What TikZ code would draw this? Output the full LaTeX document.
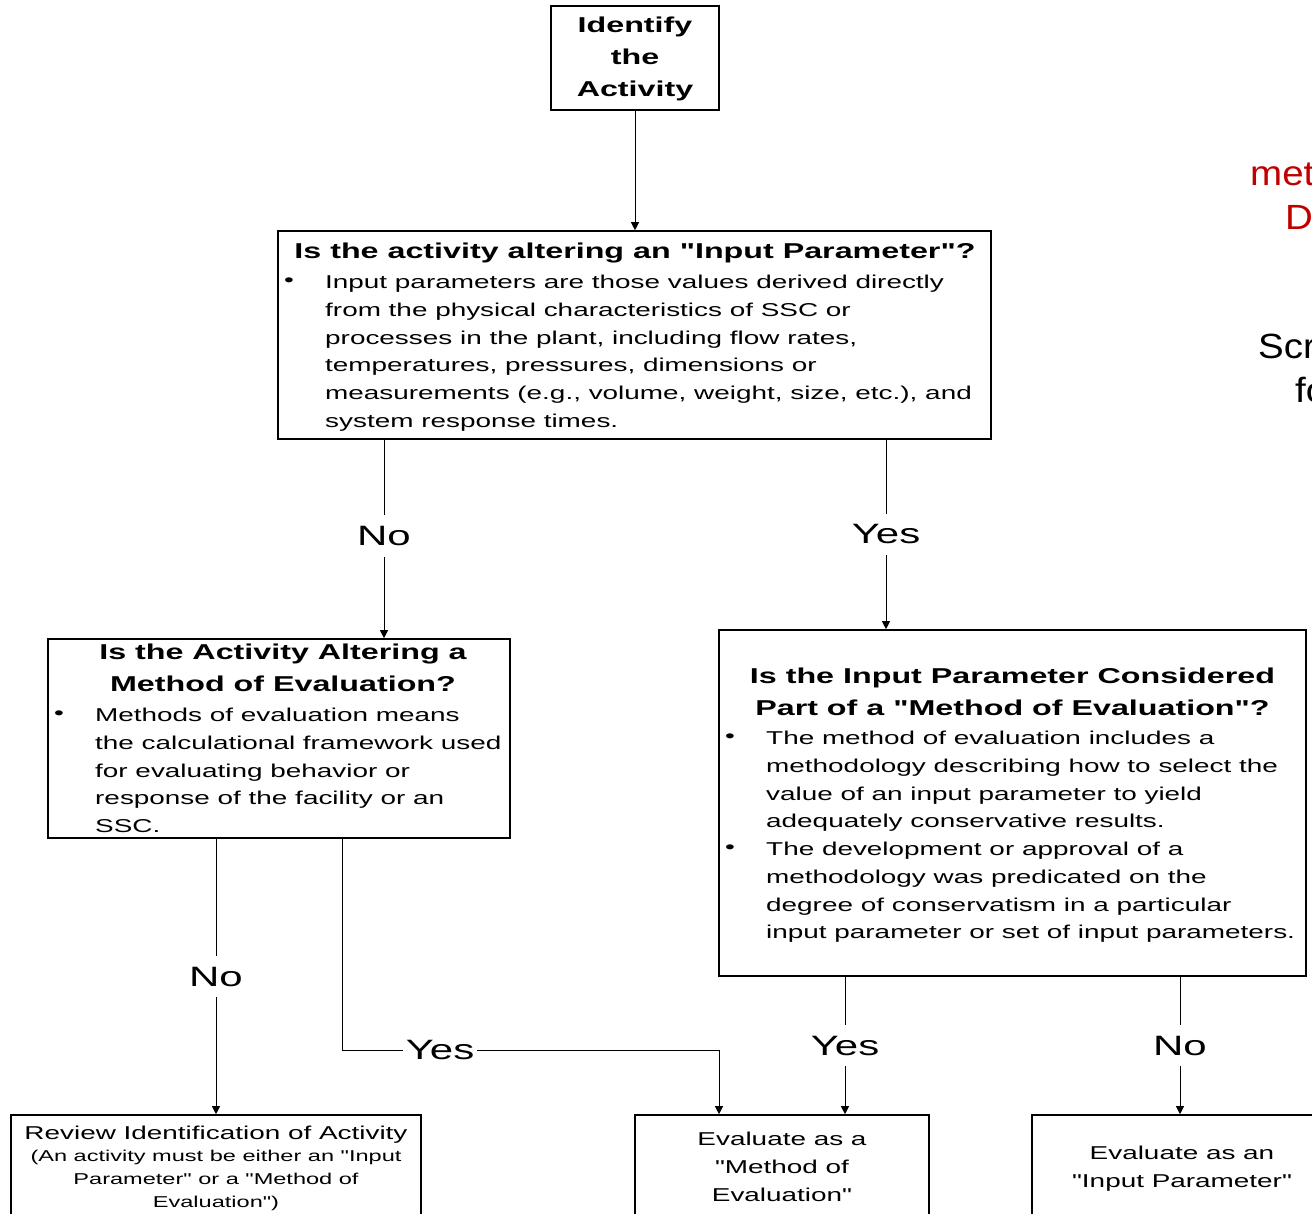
\documentclass[tikz,border=0pt]{standalone}
\usepackage{fontspec}
\setmainfont{Liberation Sans}[FakeStretch=1.5, Ligatures=TeXOff]
\newfontfamily\sidefont{Liberation Sans}[FakeStretch=1.1]
\usetikzlibrary{arrows.meta}
\definecolor{notered}{RGB}{192,0,0}

\newcommand{\bodysize}{\fontsize{18.6}{27.7}\selectfont}
\newcommand{\headsize}{\fontsize{21.5}{32}\selectfont\bfseries}
\newcommand{\lblsize}{\fontsize{28}{34}\selectfont}
\newcommand{\notesize}{\fontsize{15.7}{23}\selectfont}

\begin{document}
\begin{tikzpicture}[x=1pt, y=-1pt,
        box/.style={draw, line width=1.6pt, inner sep=0pt},
        head/.style={font=\headsize, align=center, inner sep=0pt},
        body/.style={font=\bodysize, align=left, inner sep=0pt, anchor=north west},
        dot/.style={font=\bodysize, inner sep=0pt},
        outcome/.style={font=\bodysize, align=center, inner sep=0pt, anchor=north},
        arr/.style={line width=0.9pt, -{Triangle[length=8pt, width=8pt]}},
        lbl/.style={font=\lblsize, fill=white, inner xsep=3pt, inner ysep=11pt},
        side/.style={font=\sidefont\fontsize{35}{40}\selectfont, anchor=west, inner sep=0pt}]
        % \draw[draw=black!20, step=100] (0, 0) grid (1312, 1214);
        \useasboundingbox (0, 0) rectangle (1312, 1214);
        \clip (0, 0) rectangle (1312, 1214);

        \node[box, head, minimum width=168, minimum height=104, text depth=3pt] (ident) at (635, 58) {Identify\\the\\Activity};

        \node[box, minimum width=713, minimum height=208] (q-input) at (634.5, 335) {};
        \node[head, anchor=base] (q-input-head) at (635, 259) {Is the activity altering an "Input Parameter"?};
        \node[dot] (q-input-dot) at (289, 282) {\textbullet};
        \node[body] (q-input-body) at (325, 275) {
            Input parameters are those values derived directly\\
            from the physical characteristics of SSC or\\
            processes in the plant, including flow rates,\\
            temperatures, pressures, dimensions or\\
            measurements (e.g., volume, weight, size, etc.), and\\
            system response times.
        };

        \node[box, minimum width=462, minimum height=199] (q-method) at (279, 738.5) {};
        \node[head, anchor=north] (q-method-head) at (283, 644) {Is the Activity Altering a\\Method of Evaluation?};
        \node[dot] (q-method-dot) at (59, 715) {\textbullet};
        \node[body] (q-method-body) at (95, 708) {
            Methods of evaluation means\\
            the calculational framework used\\
            for evaluating behavior or\\
            response of the facility or an\\
            SSC.
        };

        \node[box, minimum width=587, minimum height=346] (q-part) at (1012.5, 803) {};
        \node[head, anchor=north] (q-part-head) at (1012.5, 668) {Is the Input Parameter Considered\\Part of a "Method of Evaluation"?};
        \node[dot] (q-part-dot1) at (730, 738) {\textbullet};
        \node[body] (q-part-body1) at (766, 731) {
            The method of evaluation includes a\\
            methodology describing how to select the\\
            value of an input parameter to yield\\
            adequately conservative results.
        };
        \node[dot] (q-part-dot2) at (730, 849) {\textbullet};
        \node[body] (q-part-body2) at (766, 842) {
            The development or approval of a\\
            methodology was predicated on the\\
            degree of conservatism in a particular\\
            input parameter or set of input parameters.
        };

        \node[box, minimum width=410, minimum height=130] (review) at (216, 1180) {};
        \node[font=\bodysize, inner sep=0pt, anchor=base] (review-head) at (216, 1139) {Review Identification of Activity};
        \node[font=\notesize, align=center, inner sep=0pt, anchor=north] (review-note) at (216, 1150) {
            (An activity must be either an "Input\\
            Parameter" or a "Method of\\
            Evaluation")
        };

        \node[box, minimum width=294, minimum height=130] (eval-method) at (782, 1180) {};
        \node[outcome] (eval-method-text) at (782, 1132) {Evaluate as a\\"Method of\\Evaluation"};

        \node[box, minimum width=300, minimum height=130] (eval-input) at (1182, 1180) {};
        \node[outcome] (eval-input-text) at (1182, 1146) {Evaluate as an\\"Input Parameter"};

        \node[side, text=notered] (side-met) at (1250, 174) {met};
        \node[side, text=notered] (side-d) at (1285, 217) {D};
        \node[side] (side-scr) at (1258, 346) {Scr};
        \node[side] (side-fo) at (1295, 390) {fo};

        \coordinate (col-no) at (384, 0);
        \coordinate (col-yes) at (886, 0);
        \coordinate (col-review) at (216, 0);
        \coordinate (turn-yes) at (342, 1050);
        \coordinate (bend-yes) at (719, 1050);
        \coordinate (col-part-yes) at (845, 0);
        \coordinate (col-part-no) at (1180, 0);

        \draw[arr] (ident.south) -- (ident.south |- q-input.north);
        \draw[arr] (q-input.south -| col-no) -- node[lbl, yshift=3] (lbl-no1) {No} (col-no |- q-method.north);
        \draw[arr] (q-input.south -| col-yes) -- node[lbl] (lbl-yes1) {Yes} (col-yes |- q-part.north);
        \draw[arr] (q-method.south -| col-review) -- node[lbl] (lbl-no2) {No} (col-review |- review.north);
        \draw[arr] (q-method.south -| turn-yes) -- (turn-yes) -- node[lbl, pos=0.26] (lbl-yes2) {Yes} (bend-yes) -- (bend-yes |- eval-method.north);
        \draw[arr] (q-part.south -| col-part-yes) -- node[lbl] (lbl-yes3) {Yes} (col-part-yes |- eval-method.north);
        \draw[arr] (q-part.south -| col-part-no) -- node[lbl] (lbl-no3) {No} (col-part-no |- eval-input.north);

    \end{tikzpicture}
\end{document}
